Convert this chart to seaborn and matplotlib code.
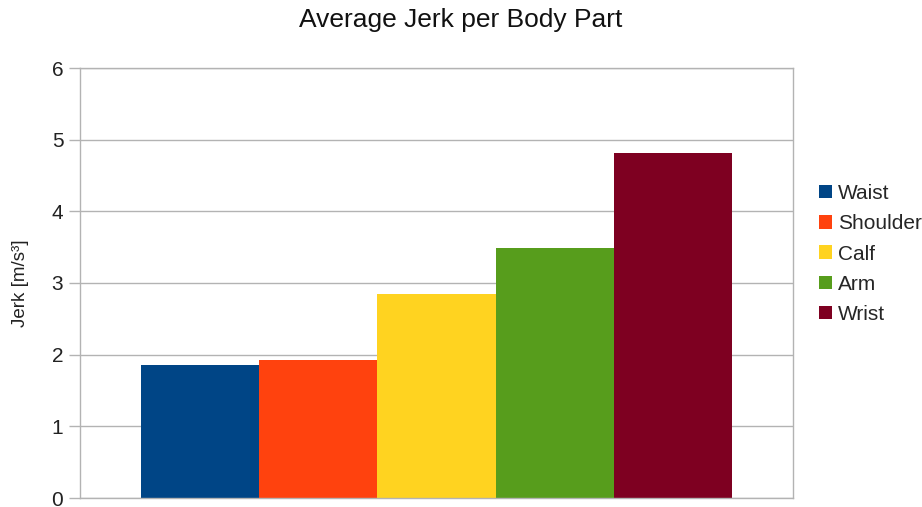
import matplotlib
matplotlib.use("Agg")
import matplotlib.pyplot as plt
import seaborn as sns
import pandas as pd

# Données
parts = ['Waist', 'Shoulder', 'Calf', 'Arm', 'Wrist']
jerk = [1.86, 1.92, 2.84, 3.49, 4.82]
colors = ['#004586', '#ff420e', '#ffd320', '#579d1c', '#7e0021']

df = pd.DataFrame({'group': [''] * len(parts), 'part': parts, 'jerk': jerk})

sns.set_style('white')
plt.rcParams['font.family'] = ['Liberation Sans', 'DejaVu Sans']

fig = plt.figure(figsize=(9.22, 5.07), dpi=100)
ax = fig.add_axes([80 / 922, 9 / 507, 713 / 922, 430 / 507])

sns.barplot(data=df, x='group', y='jerk', hue='part', hue_order=parts,
            palette=colors, width=0.83, saturation=1, ax=ax, legend=True)

ax.set_xlim(-0.5, 0.5)
ax.set_ylim(0, 6)
ax.set_yticks(range(7))
ax.set_xticks([])
ax.set_xlabel('')
ax.set_ylabel('Jerk [m/s³]', fontsize=13.5, color='#222222', labelpad=16)
ax.yaxis.grid(True, color='#b3b3b3', linewidth=1)
ax.set_axisbelow(True)
for s in ax.spines.values():
    s.set_color('#b3b3b3')
    s.set_linewidth(1)
ax.tick_params(axis='y', length=8, width=1, color='#b3b3b3', labelsize=15,
               labelcolor='#222222', pad=4, left=True)

for p in ax.patches:
    p.set_edgecolor('none')

fig.suptitle('Average Jerk per Body Part', fontsize=19, color='#111111', y=0.985)

ax.legend(loc='center left', bbox_to_anchor=(819 / 922, 253 / 507),
          bbox_transform=fig.transFigure, frameon=False, fontsize=15,
          handlelength=0.62, handleheight=0.62, handletextpad=0.3,
          labelspacing=0.54, borderaxespad=0, borderpad=0)

fig.savefig('out.png', dpi=100)
